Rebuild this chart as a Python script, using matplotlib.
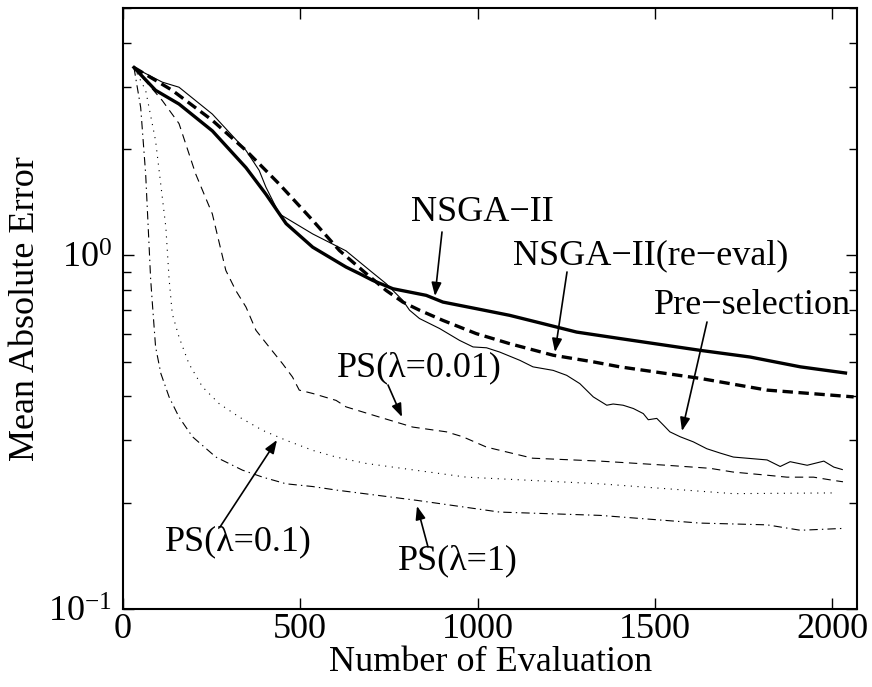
import matplotlib
matplotlib.use("Agg")
import matplotlib.pyplot as plt
from matplotlib.ticker import LogLocator, FixedLocator, NullFormatter

plt.rcParams["font.family"] = ["Liberation Serif", "DejaVu Serif"]
plt.rcParams["mathtext.fontset"] = "custom"
plt.rcParams["mathtext.rm"] = "Liberation Serif"
plt.rcParams["mathtext.it"] = "Liberation Serif:italic"
plt.rcParams["lines.scale_dashes"] = False

# NSGA-II
nsga_x = [31, 92, 158, 252, 347, 403, 460, 535, 629, 667, 704, 761, 855, 902, 996,
          1090, 1185, 1279, 1401, 1627, 1768, 1910, 2037]
nsga_y = [3.40, 2.93, 2.68, 2.25, 1.77, 1.49, 1.23, 1.055, 0.927, 0.888, 0.850, 0.805,
          0.771, 0.738, 0.707, 0.677, 0.641, 0.607, 0.582, 0.539, 0.516, 0.484, 0.465]

# NSGA-II(re-eval)
reeval_x = [31, 139, 252, 347, 441, 535, 610, 686, 742, 789, 836, 902, 996, 1090,
            1213, 1326, 1401, 1627, 1816, 2060]
reeval_y = [3.40, 2.93, 2.41, 1.98, 1.59, 1.256, 1.033, 0.888, 0.796, 0.738, 0.700,
            0.655, 0.601, 0.563, 0.522, 0.500, 0.484, 0.449, 0.416, 0.398]

# Pre-selection
pre_x = [31, 111, 158, 252, 347, 384, 403, 441, 535, 629, 700, 742, 789, 808, 836,
         893, 949, 987, 1025, 1062, 1119, 1156, 1213, 1251, 1288, 1326, 1364, 1382,
         1410, 1439, 1467, 1481, 1505, 1524, 1542, 1571, 1608, 1646, 1684, 1721,
         1759, 1816, 1853, 1881, 1929, 1976, 2004, 2028]
pre_y = [3.40, 3.09, 2.99, 2.51, 1.98, 1.74, 1.56, 1.31, 1.15, 1.03, 0.90, 0.832,
         0.746, 0.700, 0.663, 0.621, 0.575, 0.551, 0.548, 0.533, 0.505, 0.484, 0.473,
         0.458, 0.434, 0.398, 0.377, 0.380, 0.377, 0.369, 0.357, 0.343, 0.346, 0.331,
         0.317, 0.307, 0.297, 0.284, 0.276, 0.269, 0.267, 0.264, 0.253, 0.261, 0.255,
         0.262, 0.252, 0.248]

# PS(lambda=0.01)
ps001_x = [31, 111, 158, 205, 252, 290, 318, 347, 375, 412, 450, 478, 497, 535, 601,
           629, 723, 817, 912, 958, 1025, 1155, 1345, 1533, 1655, 1720, 1816, 1872,
           1947, 2004, 2030]
ps001_y = [3.40, 2.74, 2.36, 1.70, 1.31, 0.907, 0.796, 0.714, 0.614, 0.551, 0.494,
           0.453, 0.416, 0.407, 0.389, 0.373, 0.349, 0.327, 0.317, 0.307, 0.287,
           0.267, 0.262, 0.255, 0.250, 0.244, 0.239, 0.236, 0.236, 0.231, 0.229]

# PS(lambda=0.1)
ps01_x = [31, 64, 92, 121, 130, 139, 158, 186, 224, 271, 328, 394, 460, 535, 601,
          686, 968, 1345, 1720, 2013]
ps01_y = [3.40, 2.93, 2.11, 1.20, 0.86, 0.684, 0.588, 0.494, 0.425, 0.381, 0.349,
          0.320, 0.300, 0.281, 0.269, 0.258, 0.236, 0.226, 0.212, 0.213]

# PS(lambda=1)
ps1_x = [31, 50, 64, 73, 78, 83, 92, 107, 130, 158, 196, 262, 337, 394, 460, 535,
         601, 827, 1062, 1345, 1627, 1816, 1910, 2028]
ps1_y = [3.40, 2.62, 1.70, 1.10, 0.86, 0.730, 0.551, 0.463, 0.398, 0.349, 0.307,
         0.269, 0.247, 0.236, 0.226, 0.222, 0.217, 0.203, 0.188, 0.184, 0.175,
         0.173, 0.167, 0.169]

x_ticks = [0, 500, 1000, 1500, 2000]

fig = plt.figure(figsize=(8.72, 6.87), dpi=100)
ax = fig.add_axes([0.141, 0.1135, 0.842, 0.8745])

ax.plot(nsga_x, nsga_y, color="black", lw=2.4, solid_joinstyle="round")
ax.plot(reeval_x, reeval_y, color="black", lw=2.4, linestyle=(0, (7.5, 4)))
ax.plot(pre_x, pre_y, color="black", lw=0.8)
ax.plot(ps001_x, ps001_y, color="black", lw=0.8, linestyle=(0, (6, 4)))
ax.plot(ps01_x, ps01_y, color="black", lw=0.8, linestyle=(0, (0.8, 4)))
ax.plot(ps1_x, ps1_y, color="black", lw=0.8, linestyle=(0, (6, 3, 1, 3)))

ax.set_yscale("log")
ax.set_xlim(0, 2070)
ax.set_ylim(0.1, 5)
ax.xaxis.set_major_locator(FixedLocator(x_ticks))
ax.yaxis.set_major_locator(LogLocator(base=10))
ax.yaxis.set_minor_locator(LogLocator(base=10, subs=range(2, 10)))
ax.yaxis.set_minor_formatter(NullFormatter())

for s in ax.spines.values():
    s.set_linewidth(1.5)
ax.tick_params(which="both", direction="in", top=True, right=True,
               labelsize=26, width=1.0)
ax.tick_params(which="major", length=8)
ax.tick_params(axis="x", which="major", pad=3)
ax.tick_params(axis="y", which="major", pad=8)
ax.tick_params(which="minor", length=6)

ax.set_xlabel("Number of Evaluation", fontsize=26, labelpad=0)
ax.set_ylabel("Mean Absolute Error", fontsize=26, labelpad=4)

arrow = dict(arrowstyle="-|>,head_length=0.8,head_width=0.3", color="black",
             lw=1.2, shrinkA=0, shrinkB=0)


def px(x, y):
    # figure-pixel coordinates (origin at top-left) to figure fraction
    return (x / 872.0, 1 - y / 687.0)


def label(text, text_xy, tail, head):
    ax.annotate("", xy=px(*head), xycoords="figure fraction",
                xytext=px(*tail), textcoords="figure fraction", arrowprops=arrow)
    fig.text(*px(*text_xy), text, fontsize=26, ha="center", va="center")


label("NSGA\u2212II", (482, 213), (442, 232), (435, 296))
label("NSGA\u2212II(re\u2212eval)", (651, 256), (567, 272), (555, 352))
label("Pre\u2212selection", (752, 305), (707, 322), (682, 431))
label("PS(\u03bb=0.01)", (419, 368), (388, 385), (402, 417))
label("PS(\u03bb=0.1)", (238, 542), (220, 527), (277, 440))
label("PS(\u03bb=1)", (458, 561), (428, 547), (417, 506))

fig.savefig("out.png", dpi=100)
